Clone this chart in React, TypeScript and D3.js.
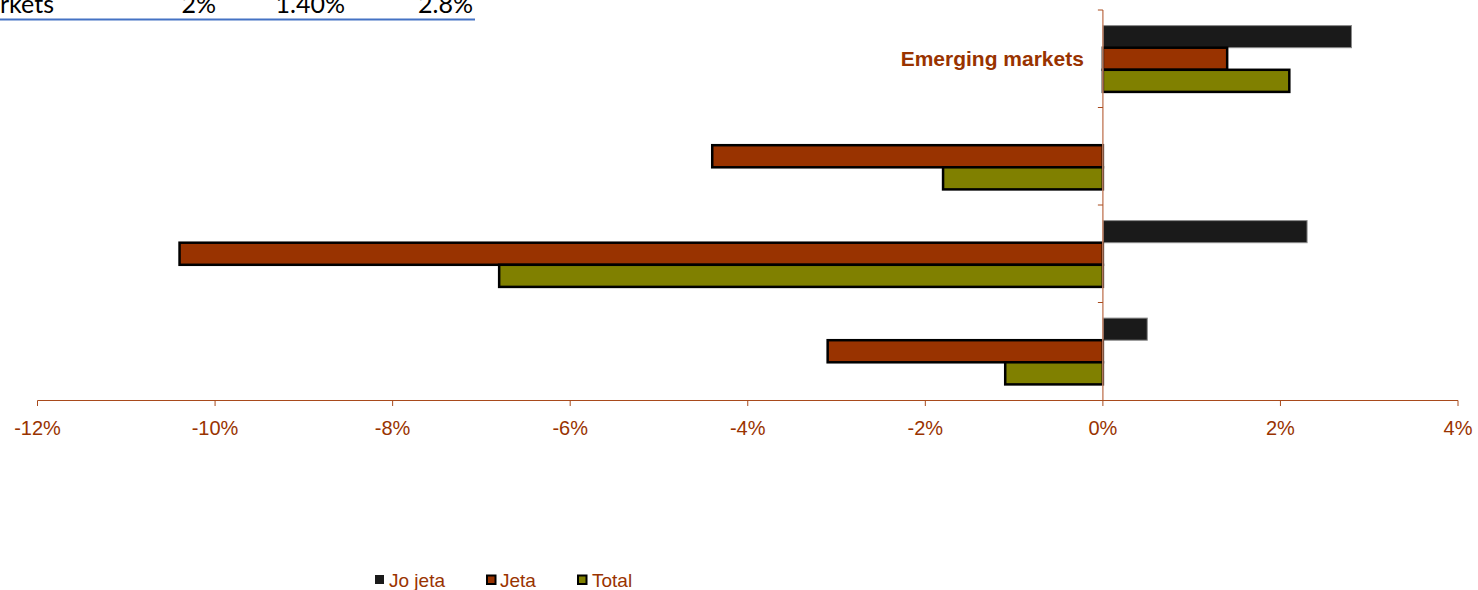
import React from "react";
import * as d3 from "d3";

const categories = ["Emerging markets", "Cat 2", "Cat 3", "Cat 4"];
const categoryLabels = ["Emerging markets", "", "", ""];
const seriesNames = ["Jo jeta", "Jeta", "Total"];
const joJeta = [2.8, 0, 2.3, 0.5];
const jeta = [1.4, -4.4, -10.4, -3.1];
const total = [2.1, -1.8, -6.8, -1.1];
const xTicks = [-12, -10, -8, -6, -4, -2, 0, 2, 4];
const tableRow = ["rkets", "2%", "1.40%", "2.8%"];

const seriesFill = ["#1a1a1a", "#993300", "#808000"];
const seriesStroke = ["#8a8a8a", "#000000", "#000000"];
const seriesStrokeW = [1, 2.5, 2.5];

export default function App() {
  const W = 1478;
  const H = 590;
  const x = d3.scaleLinear().domain([-12, 4]).range([37.5, 1458]);
  const y = d3
    .scaleBand<string>()
    .domain(categories)
    .range([10, 400])
    .paddingInner(0.32)
    .paddingOuter(0.16);
  const inner = d3
    .scaleBand<string>()
    .domain(seriesNames)
    .range([0, y.bandwidth()]);
  const values = [joJeta, jeta, total];
  const step = y.step();
  const axisColor = "#a84a1c";
  const textColor = "#993300";

  const tableX = [0, 216, 345, 473];
  const legendX = [375, 487, 578];
  const legendTextX = [389, 500, 592];

  return (
    <div style={{ position: "absolute", left: 0, top: 0 }}>
      <svg width={W} height={H} style={{ display: "block" }}>
        <rect width={W} height={H} fill="#ffffff" />
        {/* table fragment */}
        <g fontFamily="Lato, 'Open Sans', sans-serif" fontSize={25} fill="#000">
          {tableRow.map((t, i) => (
            <text key={i} x={tableX[i]} y={13} textAnchor={i === 0 ? "start" : "end"}>
              {t}
            </text>
          ))}
          <line x1={0} x2={475} y1={19.5} y2={19.5} stroke="#4472c4" strokeWidth={2} />
        </g>

        {/* bars */}
        {categories.map((c, ci) => (
          <g key={c}>
            {seriesNames.map((s, si) => {
              const v = values[si][ci];
              if (v === 0) return null;
              const x0 = x(Math.min(0, v));
              const x1 = x(Math.max(0, v));
              return (
                <rect
                  key={s}
                  x={x0}
                  y={(y(c) as number) + (inner(s) as number)}
                  width={x1 - x0}
                  height={inner.bandwidth()}
                  fill={seriesFill[si]}
                  stroke={seriesStroke[si]}
                  strokeWidth={seriesStrokeW[si]}
                />
              );
            })}
          </g>
        ))}

        {/* vertical axis */}
        <line x1={x(0)} x2={x(0)} y1={10} y2={400} stroke="#c8876a" strokeWidth={1.5} />
        {d3.range(categories.length).map((i) => (
          <line
            key={i}
            x1={x(0) - 5}
            x2={x(0)}
            y1={10 + i * step}
            y2={10 + i * step}
            stroke={axisColor}
            strokeWidth={1}
          />
        ))}
        {categories.map((c, ci) => (
          <text
            key={c}
            x={x(0) - 19}
            y={(y(c) as number) + y.bandwidth() / 2 + 7}
            textAnchor="end"
            fontFamily="'Liberation Sans', Arial, sans-serif"
            fontWeight="bold"
            fontSize={21}
            fill={textColor}
          >
            {categoryLabels[ci]}
          </text>
        ))}

        {/* horizontal axis */}
        <line x1={x(-12)} x2={x(4)} y1={400.5} y2={400.5} stroke={axisColor} strokeWidth={1} />
        {xTicks.map((t) => (
          <g key={t}>
            <line x1={x(t)} x2={x(t)} y1={400.5} y2={406} stroke={axisColor} strokeWidth={1} />
            <text
              x={x(t)}
              y={435}
              textAnchor="middle"
              fontFamily="'Liberation Sans', Arial, sans-serif"
              fontSize={20}
              fill={textColor}
            >
              {t + "%"}
            </text>
          </g>
        ))}

        {/* legend */}
        <g fontFamily="'Liberation Sans', Arial, sans-serif" fontSize={19} fill={textColor}>
          {seriesNames.map((s, i) => (
            <g key={s}>
              <rect
                x={legendX[i]}
                y={i === 0 ? 575 : 575.5}
                width={i === 0 ? 9 : 8.5}
                height={i === 0 ? 9 : 8.5}
                fill={seriesFill[i]}
                stroke={i === 0 ? "none" : "#000"}
                strokeWidth={2}
              />
              <text x={legendTextX[i]} y={587}>{s}</text>
            </g>
          ))}
        </g>
      </svg>
    </div>
  );
}
